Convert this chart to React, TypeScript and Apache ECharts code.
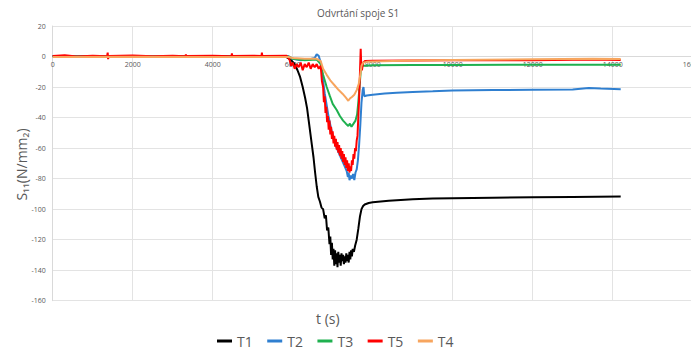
import React, { useEffect, useRef } from "react";
import * as echarts from "echarts";

const chartTitle = "Odvrtání spoje S1";
const xName = "t (s)";
const yName = "S₁₁(N/mm₂)";
const seriesNames = ["T1", "T2", "T3", "T5", "T4"];
const seriesColors = ["#000000", "#2f7fd0", "#1fb04f", "#ff0000", "#f7a55e"];

const t1: [number, number][] = [
  [0, 0.3], [500, 0.2], [1000, 0.3], [1400, 0.2], [2000, 0.2], [3000, 0.3], [4000, 0.2], [5000, 0.3],
  [5800, 0.2], [5950, -2], [6050, -5], [6120, -9], [6180, -13], [6250, -20], [6310, -27], [6360, -34],
  [6400, -42], [6440, -50], [6480, -58], [6520, -66], [6560, -76], [6600, -85], [6640, -92], [6680, -95],
  [6720, -99], [6760, -100], [6800, -106], [6830, -104], [6860, -114], [6890, -112], [6920, -123],
  [6940, -118], [6960, -130], [6980, -122], [7000, -133], [7020, -126], [7040, -137], [7060, -127],
  [7080, -136], [7100, -129], [7120, -138], [7140, -128], [7160, -135], [7180, -130], [7200, -137],
  [7220, -129], [7240, -134], [7260, -130], [7280, -136], [7300, -131], [7320, -135], [7340, -129],
  [7360, -134], [7380, -130], [7400, -135], [7420, -128], [7440, -133], [7460, -127], [7480, -131],
  [7500, -126], [7530, -128], [7560, -124], [7600, -120], [7640, -113], [7680, -105], [7720, -100],
  [7760, -98], [7800, -97], [7900, -96], [8000, -95.5], [8200, -95], [8400, -94.5], [8700, -94],
  [9000, -93.5], [9500, -93], [10000, -92.8], [11000, -92.5], [12000, -92.2], [13000, -92], [14200, -91.8],
];

const t2: [number, number][] = [
  [0, 0.2], [1000, 0.1], [2000, 0.2], [3000, 0.1], [4000, 0.2], [5000, 0.1], [5900, 0.2], [6000, -1.5],
  [6200, -2.5], [6400, -2], [6550, -1], [6600, 1.5], [6650, 0.5], [6700, -4], [6750, -14], [6800, -24],
  [6850, -32], [6900, -40], [6950, -46], [7000, -52], [7050, -56], [7100, -60], [7150, -63], [7200, -66],
  [7250, -69], [7300, -72], [7350, -75], [7380, -79], [7400, -76], [7420, -81], [7450, -78], [7480, -80],
  [7510, -77], [7540, -81], [7570, -76], [7600, -74], [7630, -68], [7660, -58], [7690, -45], [7720, -30],
  [7750, -22], [7770, -20], [7790, -26], [7850, -25.5], [8000, -25], [8300, -24.3], [8600, -23.8],
  [9000, -23.2], [9500, -22.8], [10000, -22.3], [11000, -22], [12000, -21.8], [13000, -21.6],
  [13400, -20.6], [13700, -21], [14200, -21.4],
];

const t3: [number, number][] = [
  [0, 0], [2000, 0], [4000, 0], [5900, 0], [6000, -1.5], [6300, -2.5], [6600, -2], [6700, -5],
  [6760, -12], [6850, -20], [6930, -26], [7000, -31], [7100, -35], [7180, -39], [7260, -42], [7330, -44],
  [7390, -45.5], [7430, -44], [7470, -46], [7520, -44], [7570, -42], [7610, -38], [7640, -30], [7670, -20],
  [7700, -10], [7730, -6], [7800, -6], [8000, -5.8], [9000, -5.6], [10000, -5.5], [12000, -5.4], [14200, -5.4],
];

const t5: [number, number][] = [
  [0, 0.3], [300, 0.8], [600, 0], [1000, 0.5], [1360, 0.2], [1375, 2.6], [1385, -1.7], [1400, 0.4],
  [2000, 0.6], [2500, 0.2], [3000, 0.5], [3320, 0.2], [3330, 1.4], [3340, 0.3], [4000, 0.5], [4470, 0.2],
  [4480, 2], [4490, 0.4], [5000, 0.5], [5220, 0.3], [5230, 2.5], [5240, 0.4], [5850, 0.5], [5920, -2],
  [5960, -6], [6000, -4], [6050, -8], [6100, -5], [6150, -7], [6200, -4], [6250, -9], [6300, -5],
  [6350, -7], [6400, -4], [6450, -8], [6500, -5], [6550, -7], [6600, -5], [6650, -8], [6700, -6],
  [6730, -16], [6760, -20], [6780, -30], [6800, -26], [6820, -37], [6840, -33], [6860, -43], [6880, -39],
  [6900, -48], [6920, -42], [6940, -51], [6960, -46], [6980, -54], [7000, -49], [7020, -57], [7040, -52],
  [7060, -59], [7080, -54], [7100, -61], [7120, -56], [7140, -63], [7160, -58], [7180, -65], [7200, -60],
  [7220, -67], [7240, -62], [7260, -69], [7280, -64], [7300, -71], [7320, -66], [7340, -73], [7360, -68],
  [7380, -75], [7400, -70], [7420, -76], [7440, -72], [7460, -75], [7480, -68], [7500, -71], [7520, -64],
  [7540, -67], [7560, -60], [7580, -62], [7600, -55], [7620, -52], [7640, -40], [7660, -28], [7680, -12],
  [7700, 5], [7710, -3], [7730, -9], [7760, -4], [7800, -3], [8000, -2.8], [9000, -2.6], [10000, -2.5],
  [12000, -2.4], [13500, -2], [14200, -2.2],
];

const t4: [number, number][] = [
  [0, -0.3], [2000, -0.2], [4000, -0.3], [5900, -0.3], [6000, -1], [6300, -1.5], [6600, -1.5], [6700, -3],
  [6760, -8], [6850, -12], [6950, -16], [7050, -19], [7150, -22], [7250, -24.5], [7330, -27], [7390, -29],
  [7430, -27.5], [7480, -26.5], [7540, -25], [7600, -22], [7650, -18], [7690, -12], [7720, -6], [7760, -4],
  [7850, -3.5], [8000, -3.2], [9000, -2.6], [10000, -2.2], [12000, -1.8], [13500, -1.5], [14200, -1.6],
];

const seriesData = [t1, t2, t3, t5, t4];

export default function App() {
  const ref = useRef<HTMLDivElement>(null);
  useEffect(() => {
    document.body.style.margin = "0";
    if (!ref.current) return;
    const chart = echarts.init(ref.current, null, { renderer: "svg" });
    const grey = "#595959";
    const gridColor = "#e3e3e3";
    const gridTop = 26;
    const gridHeight = 274.7;
    const yMin = -160;
    const yMax = 20;
    // distance of the zero line above the grid's bottom
    const zeroOffset = -((0 - yMin) / (yMax - yMin)) * gridHeight;
    chart.setOption({
      animation: false,
      backgroundColor: "#ffffff",
      textStyle: { fontFamily: "Open Sans" },
      title: {
        text: chartTitle,
        left: 317,
        top: 8,
        padding: 0,
        textStyle: { fontSize: 10, fontWeight: "normal", color: grey, fontFamily: "Open Sans" },
      },
      grid: {
        left: 52.7,
        top: gridTop,
        width: 640,
        height: gridHeight,
        containLabel: false,
        outerBoundsMode: "none",
      },
      legend: {
        data: seriesNames,
        left: 217,
        top: 334,
        padding: 0,
        icon: "rect",
        itemWidth: 15,
        itemHeight: 3,
        itemGap: 14.5,
        textStyle: { fontSize: 14, color: grey, fontFamily: "Open Sans" },
      },
      xAxis: {
        type: "value",
        min: 0,
        max: 16000,
        interval: 2000,
        position: "bottom",
        offset: zeroOffset,
        axisLine: { show: true, onZero: false, lineStyle: { color: "#d9d9d9" } },
        axisTick: { show: false },
        axisLabel: { fontSize: 7, color: grey, margin: 4, formatter: (v: number) => String(v) },
        splitLine: { show: true, lineStyle: { color: gridColor } },
      },
      yAxis: {
        type: "value",
        min: yMin,
        max: yMax,
        interval: 20,
        axisLine: { show: true, lineStyle: { color: "#d9d9d9" } },
        axisTick: { show: false },
        axisLabel: { fontSize: 7, color: grey, margin: 7 },
        splitLine: { show: true, lineStyle: { color: gridColor } },
      },
      graphic: [
        {
          type: "text",
          left: 316,
          top: 311,
          style: { text: xName, fontSize: 14, fill: grey, fontFamily: "Open Sans" },
        },
        {
          type: "text",
          x: 21.5,
          y: 164.5,
          rotation: Math.PI / 2,
          style: {
            text: yName,
            fontSize: 14,
            fill: grey,
            fontFamily: "Open Sans",
            align: "center",
            verticalAlign: "middle",
          },
        },
      ],
      series: seriesNames.map((name, i) => ({
        name,
        type: "line",
        data: seriesData[i],
        showSymbol: false,
        symbol: "none",
        lineStyle: { width: 2, color: seriesColors[i] },
        itemStyle: { color: seriesColors[i] },
        z: 2 + i,
      })),
    });
    return () => chart.dispose();
  }, []);
  return <div ref={ref} style={{ width: 691, height: 352 }} />;
}
